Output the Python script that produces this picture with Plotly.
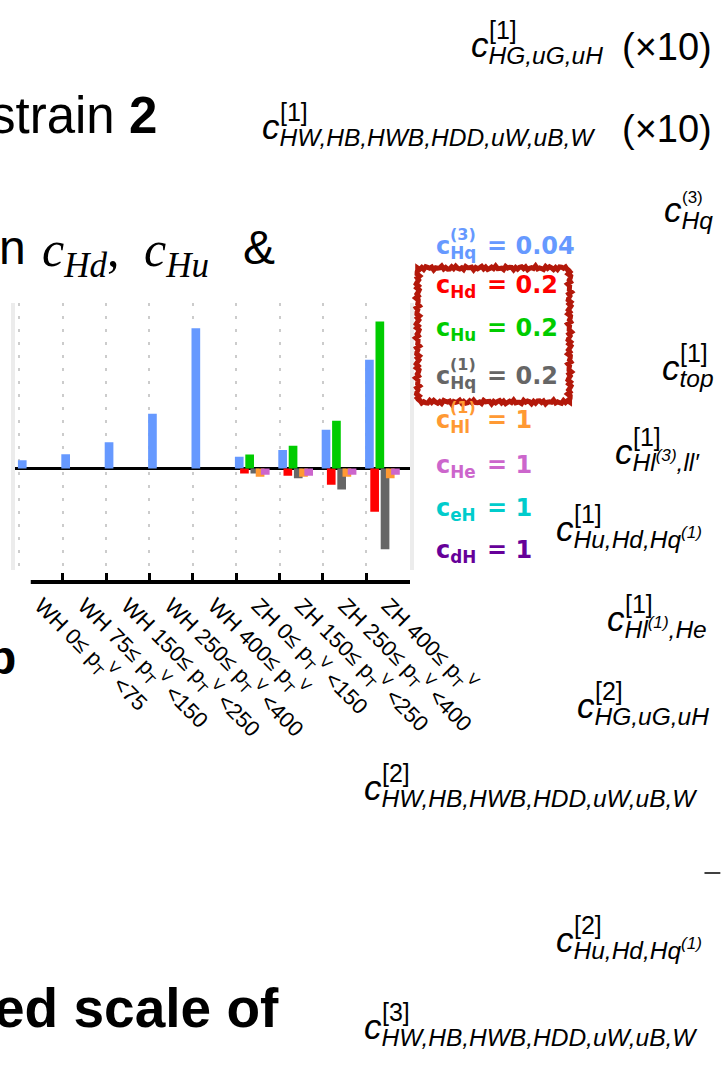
import math
import plotly.graph_objects as go

W, H = 725, 1065
KX = 1.105  # horizontal calibration of paper positions


def px(x):
    return x * KX / W


def py(y):
    return 1 - y / H


# ---------------- data ----------------
categories = [
    "WH 0≤ p<sub>T</sub><sup>V</sup> <75",
    "WH 75≤ p<sub>T</sub><sup>V</sup> <150",
    "WH 150≤ p<sub>T</sub><sup>V</sup> <250",
    "WH 250≤ p<sub>T</sub><sup>V</sup> <400",
    "WH 400≤ p<sub>T</sub><sup>V</sup>",
    "ZH 0≤ p<sub>T</sub><sup>V</sup> <150",
    "ZH 150≤ p<sub>T</sub><sup>V</sup> <250",
    "ZH 250≤ p<sub>T</sub><sup>V</sup> <400",
    "ZH 400≤ p<sub>T</sub><sup>V</sup>",
]

c_Hq3 = [8.3, 14.3, 26.3, 54.7, 140.3, 11.7, 18.5, 38.7, 108.7]
c_Hd = [0, 0, 0, 0, 0, -5.0, -7.3, -16.3, -43.3]
c_Hu = [0, 0, 0, 0, 0, 14.0, 22.8, 47.7, 147.0]
c_Hq1 = [0, 0, 0, 0, 0, -5.0, -9.7, -21.0, -80.7]
c_Hl1 = [0, 0, 0, 0, 0, -8.3, -8.3, -8.3, -9.7]
c_He = [0, 0, 0, 0, 0, -6.3, -7.3, -6.3, -6.3]
c_eH = [0, 0, 0, 0, 0, 0, 0, 0, 0]
c_dH = [0, 0, 0, 0, 0, 0, 0, 0, 0]

series = [c_Hq3, c_Hd, c_Hu, c_Hq1, c_Hl1, c_He, c_eH, c_dH]
series_names = ["cHq(3)", "cHd", "cHu", "cHq(1)", "cHl(1)", "cHe", "ceH", "cdH"]
colors = ["#6699ff", "#ff0000", "#00cc00", "#666666", "#ff9933", "#cc66cc", "#00cccc", "#660099"]

legend_subs = ["Hq", "Hd", "Hu", "Hq", "Hl", "He", "eH", "dH"]
legend_sups = ["(3)", "", "", "(1)", "(1)", "", "", ""]
legend_values = ["0.04", "0.2", "0.2", "0.2", "1", "1", "1", "1"]

# ---------------- figure ----------------
fig = go.Figure()
for i, (vals, name, col) in enumerate(zip(series, series_names, colors)):
    fig.add_trace(go.Bar(
        x=categories, y=vals, name=name,
        marker=dict(color=col, line=dict(width=0)),
        offset=-0.53 + 0.12 * i, width=0.2,
    ))

fig.update_layout(
    width=W, height=H,
    margin=dict(l=0, r=0, t=0, b=0),
    paper_bgcolor="white", plot_bgcolor="white",
    showlegend=False, barmode="overlay",
    font=dict(family="Liberation Sans, Arial", color="black"),
    xaxis=dict(
        type="category", range=[-0.6, 8.5],
        domain=[px(15), px(413)],
        anchor="free", position=py(582),
        tickson="boundaries",
        showgrid=True, gridcolor="#cccccc", gridwidth=2, griddash="3px,10px",
        ticks="inside", ticklen=7, tickwidth=3, tickcolor="black",
        showline=True, linecolor="black", linewidth=4,
        tickangle=45, tickfont=dict(size=22, family="Liberation Sans, Arial", color="black"),
        zeroline=False,
    ),
    yaxis=dict(
        domain=[py(570), py(303)], range=[-101.5, 165.5],
        showgrid=False, zeroline=True, zerolinecolor="black", zerolinewidth=3,
        showticklabels=False, ticks="",
        showline=True, linecolor="#ececec", linewidth=4, mirror=True,
    ),
)

ann = []

# legend (coloured labels)
leg_y = [247, 286, 329, 377, 421, 466, 509, 551]
for sub, sup, val, col, y in zip(legend_subs, legend_sups, legend_values, colors, leg_y):
    ann.append(dict(text=f"<b>c<sub>{sub}</sub></b>", x=px(437), y=py(y), xanchor="left", yanchor="middle",
                    font=dict(family="DejaVu Sans", size=24, color=col)))
    ann.append(dict(text=f"<b>= {val}</b>", x=px(489), y=py(y - 1), xanchor="left", yanchor="middle",
                    font=dict(family="DejaVu Sans", size=24, color=col)))
    if sup:
        ann.append(dict(text=f"<b>{sup}</b>", x=px(452), y=py(y - 13), xanchor="left", yanchor="middle",
                        font=dict(family="DejaVu Sans", size=16, color=col)))

# right column: (c-left-x, c-center-y, subscript, superscript, sup size, suffix)
right_items = [
    (473, 48, "HG,uG,uH", "[1]", 25, "(×10)"),
    (262, 130, "HW,HB,HWB,HDD,uW,uB,W", "[1]", 25, "(×10)"),
    (667, 213, "Hq", "(3)", 17, ""),
    (665, 371, "top", "[1]", 25, ""),
    (618, 455, "Hl<sup>(3)</sup>,ll′", "[1]", 25, ""),
    (558, 532, "Hu,Hd,Hq<sup>(1)</sup>", "[1]", 25, ""),
    (610, 622, "Hl<sup>(1)</sup>,He", "[1]", 25, ""),
    (580, 709, "HG,uG,uH", "[2]", 25, ""),
    (365, 791, "HW,HB,HWB,HDD,uW,uB,W", "[2]", 25, ""),
    (558, 943, "Hu,Hd,Hq<sup>(1)</sup>", "[2]", 25, ""),
    (365, 1030, "HW,HB,HWB,HDD,uW,uB,W", "[3]", 25, ""),
]
for x, y, sub, sup, ssz, suffix in right_items:
    ann.append(dict(text=f"<i>c</i><sub><i>{sub}</i></sub>", x=px(x), y=py(y - 1), xanchor="left", yanchor="middle",
                    font=dict(family="Liberation Sans, Arial", size=35, color="black")))
    ann.append(dict(text=sup, x=px(x + 18), y=py(y - 18 if ssz > 20 else y - 15), xanchor="left", yanchor="middle",
                    font=dict(family="Liberation Sans, Arial", size=ssz, color="black")))
    if suffix:
        ann.append(dict(text=suffix, x=px(625), y=py(y - 1), xanchor="left", yanchor="middle",
                        font=dict(family="Liberation Sans, Arial", size=38, color="black")))

# left slide texts
ann.append(dict(text="strain <b>2</b>", x=px(-12), y=py(115), xanchor="left", yanchor="middle",
                font=dict(family="Liberation Sans, Arial", size=51, color="black")))
ann.append(dict(text="n", x=px(-3), y=py(219), xanchor="left", yanchor="top",
                font=dict(family="Liberation Sans, Arial", size=48, color="black")))
ann.append(dict(text="<i>c</i><sub><i>Hd</i></sub>,", x=px(40), y=py(219), xanchor="left", yanchor="top",
                font=dict(family="Liberation Serif, Times New Roman", size=50, color="black")))
ann.append(dict(text="<i>c</i><sub><i>Hu</i></sub>", x=px(143), y=py(219), xanchor="left", yanchor="top",
                font=dict(family="Liberation Serif, Times New Roman", size=50, color="black")))
ann.append(dict(text="&", x=px(243), y=py(219), xanchor="left", yanchor="top",
                font=dict(family="Liberation Sans, Arial", size=48, color="black")))
ann.append(dict(text="<b>b</b>", x=px(-15), y=py(657), xanchor="left", yanchor="middle",
                font=dict(family="Liberation Sans, Arial", size=48, color="black")))
ann.append(dict(text="<b>ed scale of</b>", x=px(-8), y=py(1008), xanchor="left", yanchor="middle",
                font=dict(family="Liberation Sans, Arial", size=55, color="black")))

for a in ann:
    a.update(xref="paper", yref="paper", showarrow=False)
fig.update_layout(annotations=ann)


# hand-drawn looking red box
def rough_rect(x0, y0, x1, y1, amp=1.3, period=5.0):
    pts = []
    corners = [(x0, y0), (x1, y0), (x1, y1), (x0, y1), (x0, y0)]
    for (ax, ay), (bx, by) in zip(corners[:-1], corners[1:]):
        L = math.hypot(bx - ax, by - ay)
        n = int(L / 2.0)
        nx, ny = -(by - ay) / L, (bx - ax) / L
        for k in range(n):
            t = k / n
            s = t * L
            off = amp * math.sin(2 * math.pi * s / period) + 0.6 * amp * math.sin(2 * math.pi * s / (period * 2.7))
            pts.append((ax + (bx - ax) * t + nx * off, ay + (by - ay) * t + ny * off))
    return "M " + " L ".join(f"{px(a):.5f},{py(b):.5f}" for a, b in pts) + " Z"


fig.add_shape(type="path", path=rough_rect(421, 268, 574, 402), xref="paper", yref="paper",
              line=dict(color="#b3180a", width=5), layer="above")
# the bottom axis line starts a little right of the plot's left edge in the reference
fig.add_shape(type="rect", x0=px(10), x1=px(31), y0=py(573), y1=py(588), xref="paper", yref="paper",
              line=dict(width=0), fillcolor="white", layer="above")
fig.add_shape(type="line", x0=px(710), x1=px(726), y0=py(873), y1=py(873), xref="paper", yref="paper",
              line=dict(color="black", width=1.5))

fig.write_html("out.html")
